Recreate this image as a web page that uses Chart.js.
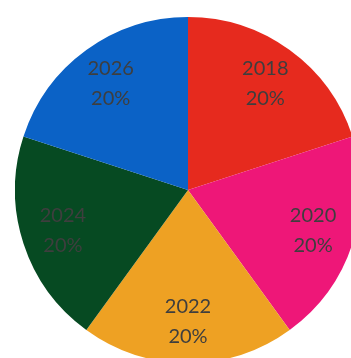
<!DOCTYPE html>
<html>
<head>
<meta charset="utf-8">
<script src="https://cdn.jsdelivr.net/npm/chart.js@4"></script>
<style>
  html, body { margin:0; padding:0; background:#fff; overflow:hidden; width:351px; height:358px; }
  #wrap { position:absolute; left:15px; top:17px; width:346px; height:346px; }
</style>
</head>
<body>
<div id="wrap"><canvas id="myChart" width="346" height="346"></canvas></div>
<script>
const years = ['2018', '2020', '2022', '2024', '2026'];
const shares = [20, 20, 20, 20, 20];
const colors = ['#e62a1e', '#ee1778', '#eea123', '#064a22', '#0b62c6'];

// draws "year / percent" inside each slice
const sliceLabels = {
  id: 'sliceLabels',
  afterDatasetsDraw(chart) {
    const ctx = chart.ctx;
    const meta = chart.getDatasetMeta(0);
    ctx.save();
    ctx.font = '20px Lato';
    ctx.fillStyle = '#3e3e3e';
    ctx.textAlign = 'center';
    ctx.textBaseline = 'middle';
    meta.data.forEach((arc, i) => {
      const p = arc.getProps(['x', 'y', 'startAngle', 'endAngle', 'outerRadius'], true);
      const mid = (p.startAngle + p.endAngle) / 2;
      const r = p.outerRadius * 0.76;
      const x = p.x + Math.cos(mid) * r;
      const y = p.y + Math.sin(mid) * r;
      ctx.fillText(years[i], x, y - 15);
      ctx.fillText(shares[i] + '%', x, y + 15);
    });
    ctx.restore();
  }
};

const ctx = document.getElementById('myChart').getContext('2d');
const myChart = new Chart(ctx, {
  type: 'pie',
  data: {
    labels: years,
    datasets: [{
      data: shares,
      backgroundColor: colors,
      borderWidth: 0
    }]
  },
  options: {
    responsive: false,
    animation: false,
    layout: { padding: 0 },
    plugins: {
      legend: { display: false },
      tooltip: { enabled: false }
    }
  },
  plugins: [sliceLabels]
});
</script>
</body>
</html>
